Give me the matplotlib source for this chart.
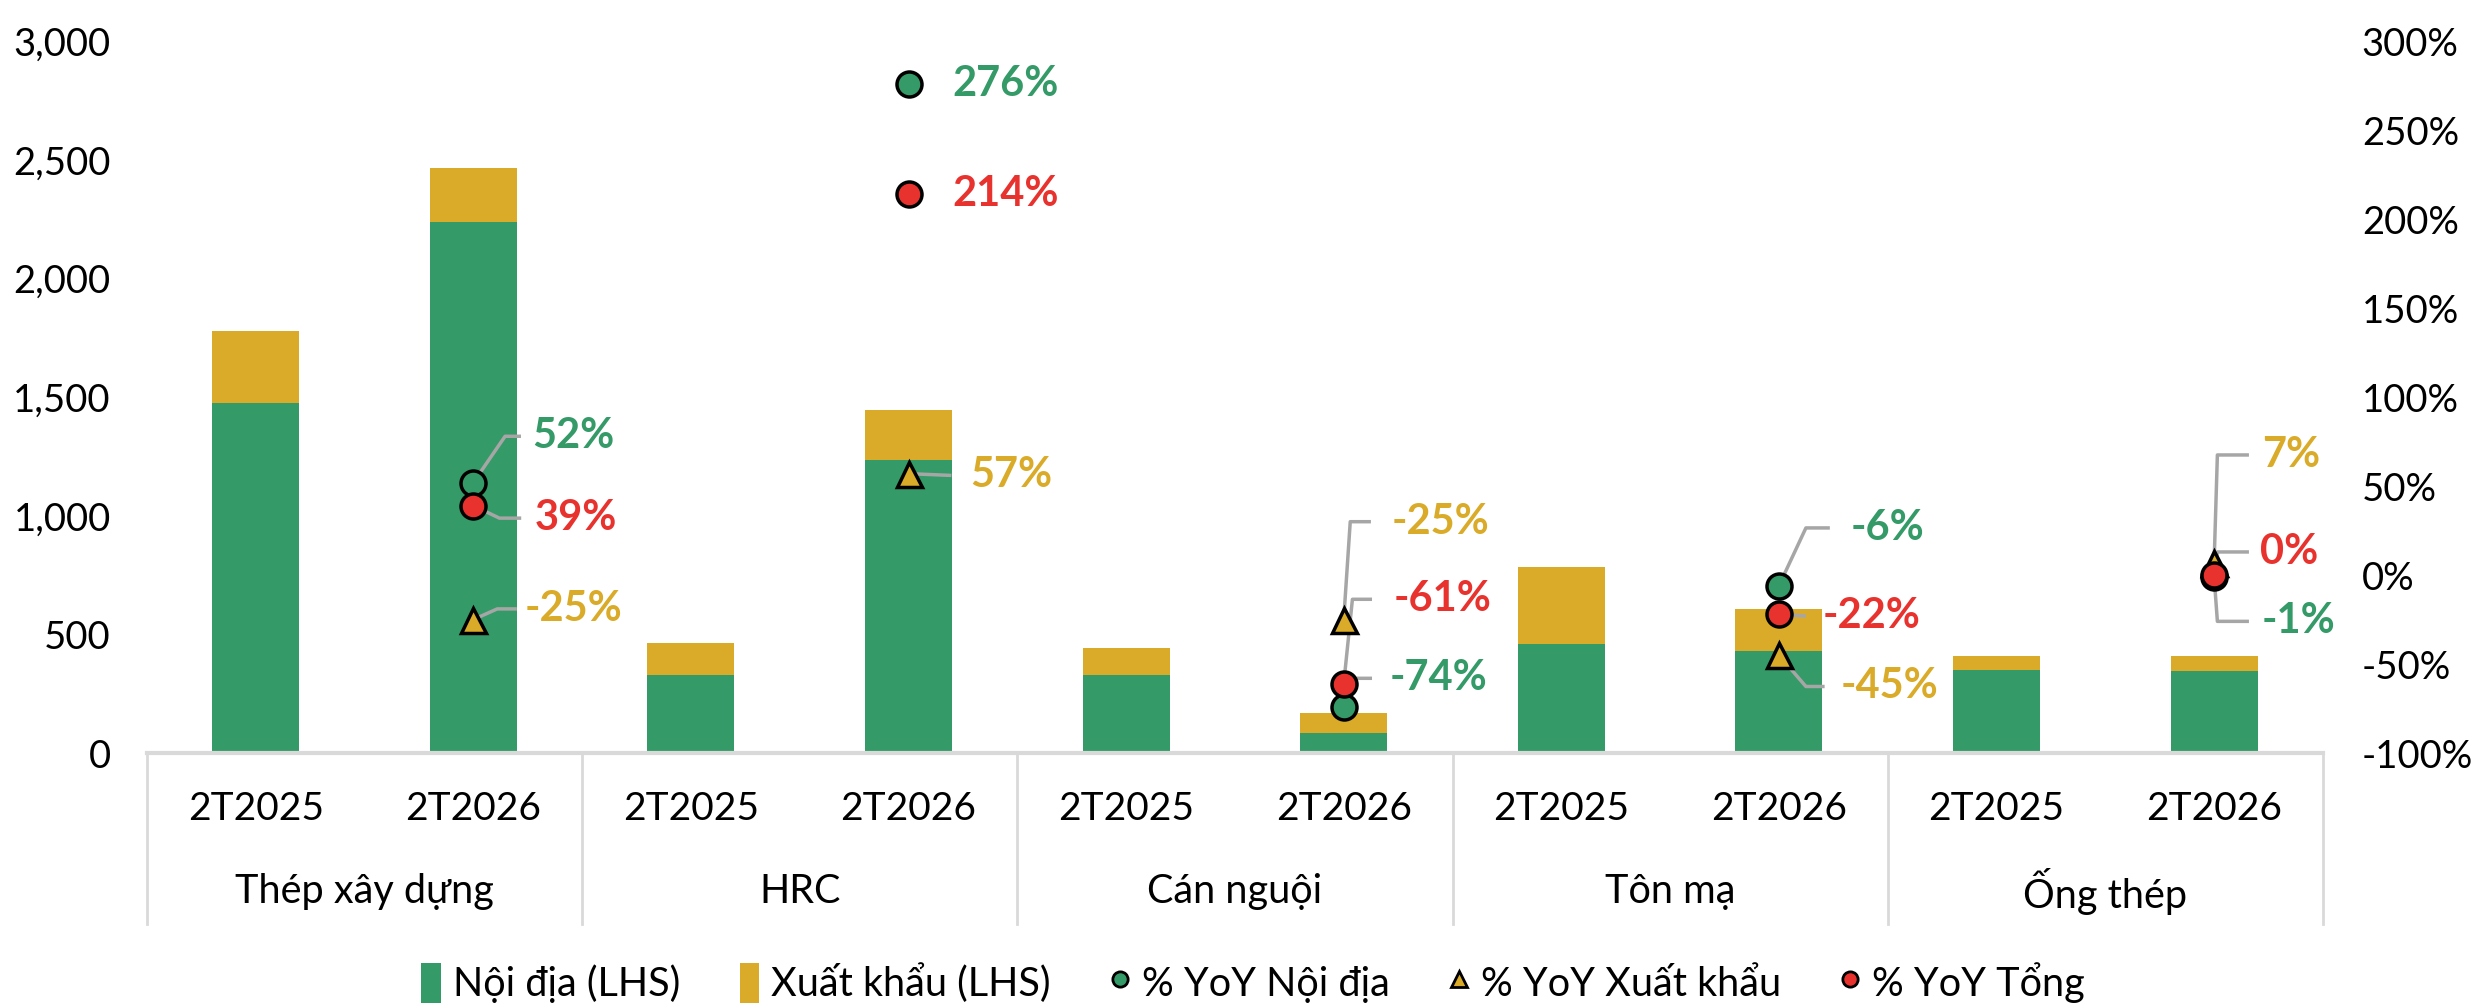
import matplotlib
matplotlib.use("Agg")
import matplotlib.pyplot as plt
from matplotlib.lines import Line2D
from matplotlib.patches import Patch

plt.rcParams['font.family'] = ['Lato', 'DejaVu Sans']

# Data
groups = ["Thép xây dựng", "HRC", "Cán nguội", "Tôn mạ", "Ống thép"]
periods = ["2T2025", "2T2026"]
domestic = [1475, 2238, 328, 1235, 327, 85, 461, 432, 350, 347]
export = [303, 227, 134, 212, 114, 85, 324, 176, 60, 64]
yoy_dom = [52, 276, -74, -6, -1]
yoy_exp = [-25, 57, -25, -45, 7]
yoy_tot = [39, 214, -61, -22, 0]

GREEN = "#349A67"
YELLOW = "#DAAB28"
RED = "#E8322E"
GRID = "#D9D9D9"
LEADER = "#A6A6A6"

# label placement: (text dx, text y in %, elbow dx, end dx); None elbow = no leader
label_pos = {
    "dom": [(0.27, 78, 0.146, 0.219), (0.20, 276, None, None), (0.21, -58, 0.03, 0.13),
            (0.33, 26.5, 0.124, 0.234), (0.22, -26, 0.015, 0.16)],
    "tot": [(0.28, 32, 0.12, 0.22), (0.20, 214, None, None), (0.23, -13.6, 0.04, 0.13),
            (0.20, -23, 0.124, 0.124), (0.21, 13, 0.015, 0.16)],
    "exp": [(0.235, -19, 0.11, 0.2), (0.285, 56, 0.197, 0.197), (0.22, 30, 0.03, 0.125),
            (0.285, -62.6, 0.124, 0.21), (0.22, 67.5, 0.015, 0.16)],
}

fig = plt.figure(figsize=(24.86, 10.05), dpi=100)
ax = fig.add_axes([0.0591, 0.2507, 0.8753, 0.7083])
ax2 = ax.twinx()

x = list(range(len(domestic)))
ax.bar(x, domestic, width=0.4, color=GREEN, zorder=2)
ax.bar(x, export, width=0.4, bottom=domestic, color=YELLOW, zorder=2)

ax.set_xlim(-0.5, 9.5)
ax.set_ylim(0, 3000)
ax.set_yticks(range(0, 3001, 500))
ax.set_yticklabels([f"{v:,}" for v in range(0, 3001, 500)])
ax.set_xticks([])
ax2.set_ylim(-100, 300)
ax2.set_yticks(range(-100, 301, 50))
ax2.set_yticklabels([f"{v}%" for v in range(-100, 301, 50)])
for a in (ax, ax2):
    for s in a.spines.values():
        s.set_visible(False)
    a.tick_params(length=0, labelsize=27.5, colors="black")
ax.tick_params(axis="y", pad=26)
ax2.tick_params(axis="y", pad=28)
ax.axhline(0, color=GRID, lw=3, zorder=3, clip_on=False)

# category axis
tr = ax.get_xaxis_transform()
for sx in [-0.5, 1.5, 3.5, 5.5, 7.5, 9.5]:
    ax.plot([sx, sx], [0, -0.24], transform=tr, color=GRID, lw=2, clip_on=False)
for i in x:
    ax.text(i, -0.079, periods[i % 2], transform=tr, ha="center", va="center", fontsize=28)
for g, name in enumerate(groups):
    ax.text(2 * g + 0.5, -0.194, name, transform=tr, ha="center", va="center", fontsize=28.5)

# YoY markers on the 2T2026 bars
xm = [2 * g + 1 for g in range(len(groups))]
ax2.plot(xm, yoy_dom, "o", ls="none", ms=18, mfc=GREEN, mec="black", mew=2.5, zorder=5)
ax2.plot(xm, yoy_exp, "^", ls="none", ms=18, mfc=YELLOW, mec="black", mew=2.5, zorder=6)
ax2.plot(xm, yoy_tot, "o", ls="none", ms=18, mfc=RED, mec="black", mew=2.5, zorder=7)

series = {"dom": (yoy_dom, GREEN), "tot": (yoy_tot, RED), "exp": (yoy_exp, YELLOW)}
for key, (vals, col) in series.items():
    for g, v in enumerate(vals):
        tdx, ty, ex, en = label_pos[key][g]
        xc = xm[g]
        if ex is not None:
            ax2.plot([xc, xc + ex, xc + en], [v, ty, ty], color=LEADER, lw=2.5, zorder=4,
                     solid_capstyle="butt")
        ax2.text(xc + tdx, ty, f"{v}%", color=col, fontsize=30, fontweight="bold",
                 ha="left", va="center", zorder=8)

handles = [
    Patch(facecolor=GREEN, label="Nội địa (LHS)"),
    Patch(facecolor=YELLOW, label="Xuất khẩu (LHS)"),
    Line2D([], [], marker="o", ls="none", ms=11, mfc=GREEN, mec="black", mew=2, label="% YoY Nội địa"),
    Line2D([], [], marker="^", ls="none", ms=11, mfc=YELLOW, mec="black", mew=2, label="% YoY Xuất khẩu"),
    Line2D([], [], marker="o", ls="none", ms=11, mfc=RED, mec="black", mew=2, label="% YoY Tổng"),
]
fig.legend(handles=handles, loc="center", bbox_to_anchor=(0.504, 0.022), ncol=5, frameon=False,
           fontsize=28.5, handlelength=0.5, handleheight=1.2, handletextpad=0.3, columnspacing=1.5)

fig.savefig("out.png", dpi=100)
